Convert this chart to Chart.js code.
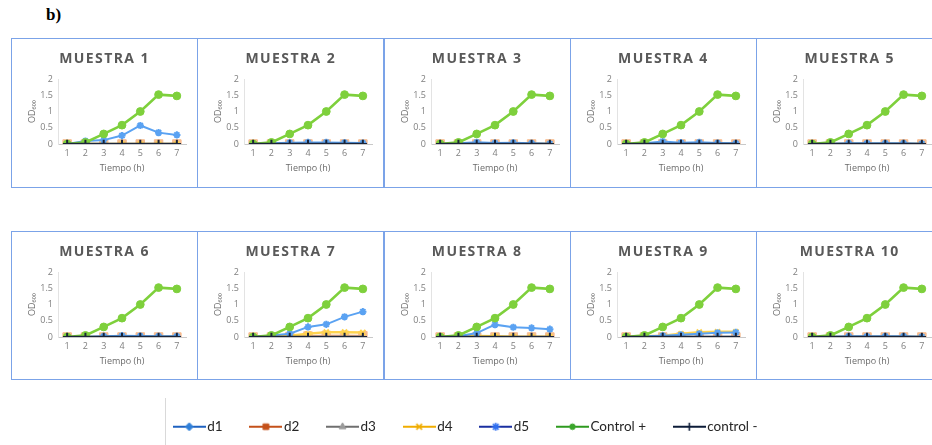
<!DOCTYPE html>
<html>
<head>
<meta charset="utf-8">
<script src="https://cdn.jsdelivr.net/npm/chart.js@4.4.1/dist/chart.umd.min.js"></script>
<style>
  body { margin: 0; background: #fff; width: 932px; height: 445px; overflow: hidden; position: relative; }
  .panel { position: absolute; width: 187px; box-sizing: border-box; border: 1px solid #7ba3e8; background: #fff; }
  .panel canvas { position: absolute; left: 0; top: 0; }
  .ttl { position: absolute; left: 0; right: 0; top: 11px; text-align: center; font: bold 14px "Open Sans"; letter-spacing: 1.4px; color: #595959; line-height: 16px; }
  #lbl { position: absolute; left: 46px; top: 5px; font: bold 17px "Liberation Serif"; color: #000; }
  #legLine { position: absolute; left: 165px; top: 398px; width: 0; height: 47px; border-left: 1px solid #d9d9d9; }
  #legCanvas { position: absolute; left: 146px; top: 388px; }
</style>
</head>
<body>
<div id="lbl">b)</div>
<div id="legLine"></div>
<canvas id="legCanvas" width="780" height="100"></canvas>

<script>
/* =====================
   DATA
===================== */
const hours = ['1', '2', '3', '4', '5', '6', '7'];
const seriesNames = ['d1', 'd2', 'd3', 'd4', 'd5', 'Control +', 'control -'];
const sampleNames = ['MUESTRA 1', 'MUESTRA 2', 'MUESTRA 3', 'MUESTRA 4', 'MUESTRA 5',
                     'MUESTRA 6', 'MUESTRA 7', 'MUESTRA 8', 'MUESTRA 9', 'MUESTRA 10'];

const controlPos = [0, 0.05, 0.31, 0.58, 1.0, 1.52, 1.48];
const controlNeg = [0, 0, 0, 0, 0, 0, 0];

// d1 .. d5 for each sample
const muestra1 = [
  [0, 0, 0, 0, 0, 0, 0],
  [0, 0, 0, 0, 0, 0, 0],
  [0, 0, 0, 0, 0, 0, 0],
  [0, 0, 0, 0, 0, 0, 0],
  [0, 0.09, 0.12, 0.26, 0.57, 0.35, 0.28]
];
const muestra2 = [
  [0, 0, 0, 0, 0, 0, 0],
  [0, 0, 0, 0, 0, 0, 0],
  [0, 0, 0, 0, 0, 0, 0],
  [0, 0, 0, 0, 0, 0, 0],
  [0, 0.02, 0.04, 0.05, 0.05, 0.04, 0.03]
];
const muestra3 = [
  [0, 0, 0, 0, 0, 0, 0],
  [0, 0, 0, 0, 0, 0, 0],
  [0, 0, 0, 0, 0, 0, 0],
  [0, 0, 0, 0, 0, 0, 0],
  [0, 0.02, 0.05, 0.03, 0.04, 0.02, 0.01]
];
const muestra4 = [
  [0, 0, 0, 0, 0, 0, 0],
  [0, 0, 0, 0, 0, 0, 0],
  [0, 0, 0, 0, 0, 0, 0],
  [0, 0, 0, 0, 0, 0, 0],
  [0, 0.02, 0.08, 0.04, 0.05, 0.03, 0.02]
];
const muestra5 = [
  [0, 0, 0, 0, 0, 0, 0],
  [0, 0, 0, 0, 0, 0, 0],
  [0, 0, 0, 0, 0, 0, 0],
  [0, 0, 0, 0, 0, 0, 0],
  [0, 0.01, 0.02, 0.02, 0.02, 0.02, 0.01]
];
const muestra6 = [
  [0, 0, 0, 0, 0, 0, 0],
  [0, 0, 0, 0, 0, 0, 0],
  [0, 0, 0, 0, 0, 0, 0],
  [0, 0, 0, 0, 0, 0, 0],
  [0, 0.01, 0.02, 0.04, 0.03, 0.02, 0.02]
];
const muestra7 = [
  [0, 0, 0, 0, 0, 0, 0],
  [0, 0, 0.01, 0.03, 0.05, 0.05, 0.04],
  [0, 0, 0, 0, 0, 0, 0],
  [0, 0.02, 0.04, 0.1, 0.15, 0.15, 0.14],
  [0, 0.05, 0.1, 0.31, 0.39, 0.62, 0.78]
];
const muestra8 = [
  [0, 0, 0, 0, 0, 0, 0],
  [0, 0, 0, 0, 0, 0, 0],
  [0, 0, 0, 0, 0, 0, 0],
  [0, 0.01, 0.03, 0.02, 0.01, 0.01, 0.01],
  [0, 0.02, 0.12, 0.38, 0.3, 0.28, 0.24]
];
const muestra9 = [
  [0, 0, 0, 0, 0, 0, 0],
  [0, 0, 0, 0, 0, 0, 0],
  [0, 0, 0.04, 0.02, 0.01, 0.01, 0.01],
  [0, 0.02, 0.04, 0.1, 0.15, 0.16, 0.16],
  [0, 0.02, 0.04, 0.07, 0.1, 0.13, 0.14]
];
const muestra10 = [
  [0, 0, 0, 0, 0, 0, 0],
  [0, 0, 0, 0, 0, 0, 0],
  [0, 0, 0, 0, 0, 0, 0],
  [0, 0, 0, 0, 0, 0, 0],
  [0, 0.01, 0.02, 0.02, 0.02, 0.02, 0.01]
];
const samples = [muestra1, muestra2, muestra3, muestra4, muestra5,
                 muestra6, muestra7, muestra8, muestra9, muestra10];

/* =====================
   STYLE
===================== */
// faded colours as they look inside the panels
const plotColors = ['#5b9bd5', '#f7bb8e', '#b4b4b4', '#ffd34e', '#5aa2f2', '#7ed03c', '#1a2438'];
// stronger colours used in the legend
const legColors = ['#1f62c0', '#c4511a', '#6f6f6f', '#f0ad00', '#1a2fa0', '#2e9a1f', '#0d1c38'];
const legMarker = ['#2f7fd8', '#c4511a', '#9a9a9a', '#f0ad00', '#2f6ff0', '#3aa52a', '#0d1c38'];
const pStyles = ['rectRot', 'rect', 'triangle', 'crossRot', 'star', 'circle', 'cross'];
const pRadius = [3.5, 6, 2.8, 3.6, 3.6, 3.9, 4.2];
const lWidth = [2, 2, 2, 2.5, 2, 2.6, 2.5];

const tickFont = { family: 'Open Sans', size: 9 };

function makeDatasets(rows) {
  const all = [...rows, controlPos, controlNeg];
  return all.map((vals, i) => ({
    label: seriesNames[i],
    data: vals,
    borderColor: plotColors[i],
    backgroundColor: plotColors[i],
    borderWidth: lWidth[i],
    pointStyle: pStyles[i],
    pointRadius: pRadius[i],
    pointBorderWidth: i === 6 || i === 3 || i === 4 ? 2 : 1,
    tension: 0,
    order: 6 - i          // later series sit on top, like the original
  }));
}

function panelOptions() {
  return {
    responsive: false,
    animation: false,
    events: [],
    layout: { padding: { top: 40, right: 11, bottom: 0, left: 0 } },
    plugins: { legend: { display: false }, tooltip: { enabled: false } },
    scales: {
      x: {
        offset: true,
        grid: { display: false, drawTicks: false },
        border: { display: true, color: '#c9c9c9', width: 1 },
        ticks: { color: '#7f7f7f', font: tickFont, padding: 4, maxRotation: 0, autoSkip: false },
        title: { display: true, text: 'Tiempo (h)', color: '#6b6b6b', font: tickFont,
                 padding: { top: 0, bottom: 13.6 } },
        afterFit: s => { s.height = 43; }
      },
      y: {
        min: 0, max: 2,
        grid: { display: false, drawTicks: false },
        border: { display: true, color: '#e3e3e3', width: 1 },
        ticks: { stepSize: 0.5, color: '#7f7f7f', font: tickFont, padding: 5,
                 callback: v => String(v) },
        title: { display: true, text: 'OD₆₀₀', color: '#6b6b6b', font: tickFont,
                 padding: { top: 14.6, bottom: 0 } },
        afterFit: s => { s.width = 46; }
      }
    }
  };
}

/* =====================
   PANELS
===================== */
samples.forEach((rows, k) => {
  const row = Math.floor(k / 5);
  const col = k % 5;
  const panel = document.createElement('div');
  panel.className = 'panel';
  panel.style.left = (11 + col * 186.3) + 'px';
  panel.style.top = (row === 0 ? 38 : 231) + 'px';
  panel.style.height = (row === 0 ? 150 : 149) + 'px';

  const cv = document.createElement('canvas');
  cv.width = 185;
  cv.height = 148;
  panel.appendChild(cv);

  const t = document.createElement('div');
  t.className = 'ttl';
  t.textContent = sampleNames[k];
  panel.appendChild(t);

  document.body.appendChild(panel);

  new Chart(cv, {
    type: 'line',
    data: { labels: hours, datasets: makeDatasets(rows) },
    options: panelOptions()
  });
});

/* =====================
   LEGEND
===================== */
function legendIcon(i) {
  const c = document.createElement('canvas');
  c.width = 33;
  c.height = 12;
  const ctx = c.getContext('2d');
  ctx.strokeStyle = legColors[i];
  ctx.lineWidth = 2.2;
  ctx.beginPath();
  ctx.moveTo(0, 6);
  ctx.lineTo(33, 6);
  ctx.stroke();
  ctx.fillStyle = legMarker[i];
  ctx.strokeStyle = legMarker[i];
  const bw = i === 6 || i === 3 || i === 4 ? 1.6 : 1;
  ctx.lineWidth = bw;
  Chart.helpers.drawPoint(ctx, {
    pointStyle: pStyles[i],
    radius: i === 5 ? 2.8 : 4,
    rotation: 0,
    borderWidth: bw
  }, 16.5, 6);
  return c;
}

const icons = seriesNames.map((_, i) => legendIcon(i));

new Chart(document.getElementById('legCanvas'), {
  type: 'line',
  data: {
    labels: [],
    datasets: seriesNames.map((name, i) => ({ label: name, data: [], borderColor: legColors[i] }))
  },
  options: {
    responsive: false,
    animation: false,
    events: [],
    scales: { x: { display: false }, y: { display: false } },
    plugins: {
      tooltip: { enabled: false },
      legend: {
        position: 'top',
        align: 'start',
        labels: {
          usePointStyle: true,
          pointStyleWidth: 22.5,
          padding: 32,
          color: '#262626',
          font: { family: 'Lato', size: 13.5 },
          generateLabels: chart => chart.data.datasets.map((ds, i) => ({
            text: ds.label,
            pointStyle: icons[i],
            fillStyle: 'rgba(0,0,0,0)',
            strokeStyle: 'rgba(0,0,0,0)',
            lineWidth: 0,
            hidden: false,
            datasetIndex: i,
            fontColor: '#262626'
          }))
        }
      }
    }
  }
});
</script>
</body>
</html>
